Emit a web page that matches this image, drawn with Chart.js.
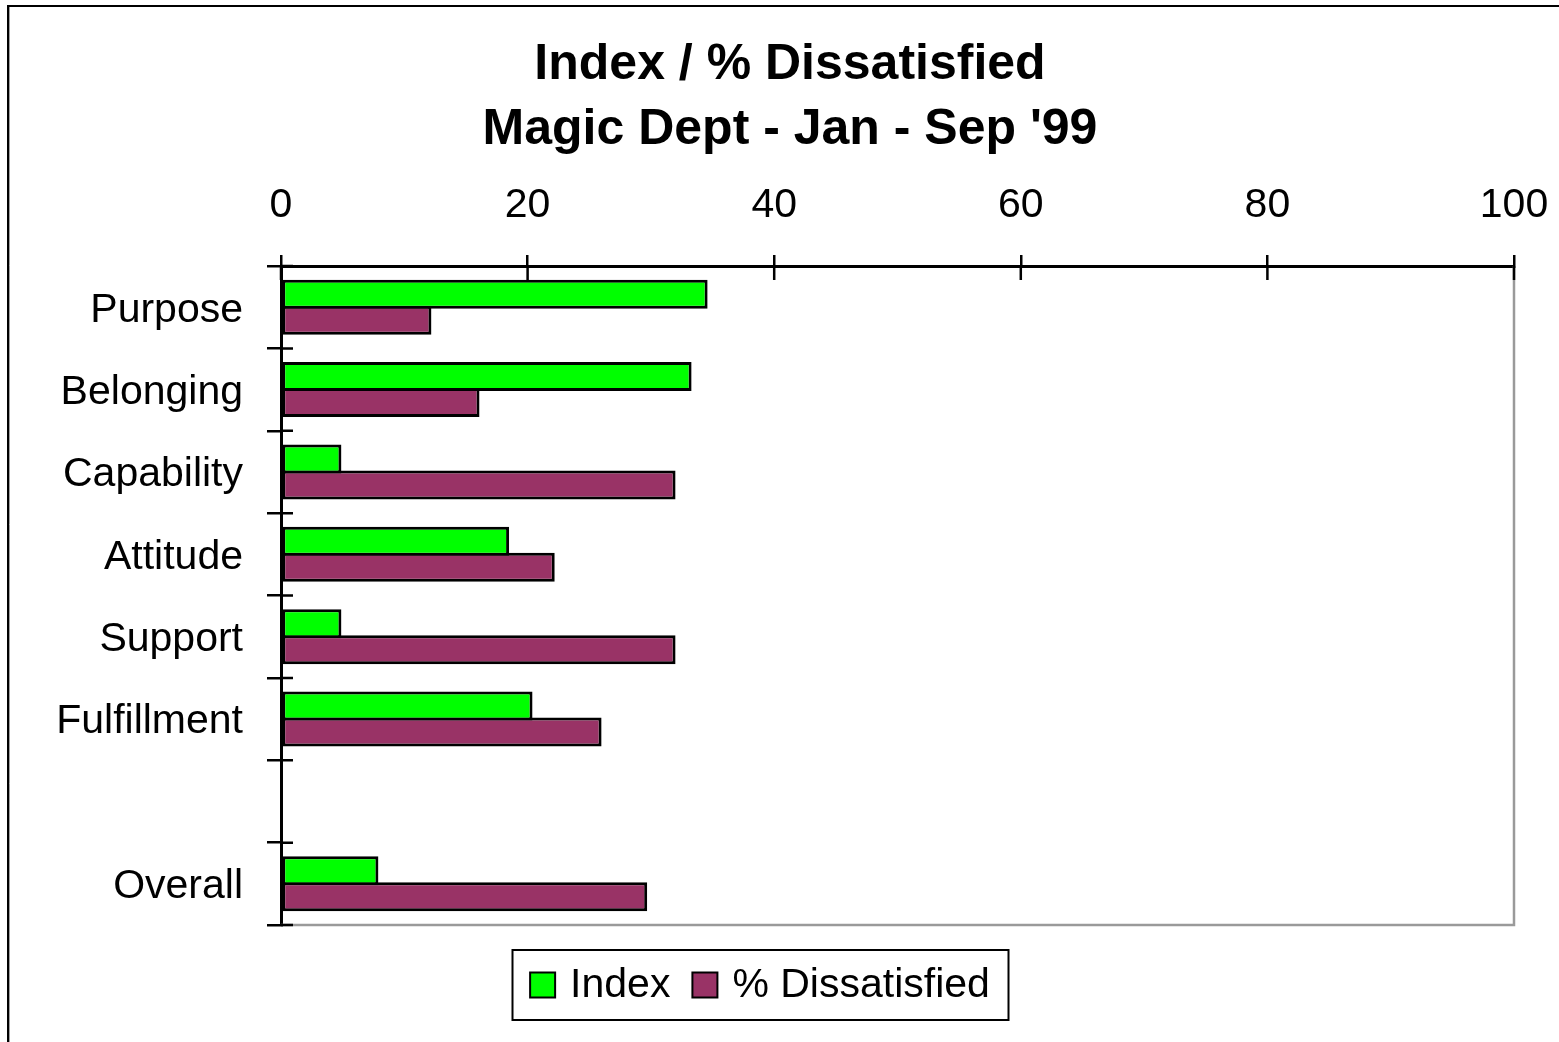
<!DOCTYPE html>
<html>
<head>
<meta charset="utf-8">
<title>Index / % Dissatisfied</title>
<script src="https://cdn.jsdelivr.net/npm/chart.js@4.4.1/dist/chart.umd.min.js"></script>
<style>
  html, body { margin:0; padding:0; background:#fff; }
  #wrap { width:1559px; height:1042px; position:relative; }
</style>
</head>
<body>
<div id="wrap"><canvas id="chart" width="1559" height="1042"></canvas></div>
<script>
// chart data
const categories = ['Purpose', 'Belonging', 'Capability', 'Attitude', 'Support', 'Fulfillment', '', 'Overall'];
const indexValues = [34.6, 33.3, 4.9, 18.5, 4.9, 20.4, null, 7.9];
const dissatisfiedValues = [12.2, 16.1, 32.0, 22.2, 32.0, 26.0, null, 29.7];
const xTickValues = [0, 20, 40, 60, 80, 100];
const titleLines = ['Index / % Dissatisfied', "Magic Dept - Jan - Sep '99"];

const FONT = "'Liberation Sans', Arial, Helvetica, sans-serif";
const GREEN = '#00ff00', PLUM = '#993366';

// title sits a bit right of the canvas centre in the original
const titleShift = { id: 'titleShift', afterLayout(chart){ if(chart.titleBlock) chart.titleBlock.left += 66; } };

// outer frame, inner tick stubs, grey right/bottom edges
const frame = {
  id: 'frame',
  beforeDatasetsDraw(chart){
    const {ctx, chartArea:a} = chart;
    ctx.save();
    ctx.strokeStyle = '#9a9a9a'; ctx.lineWidth = 2.5;
    ctx.beginPath();
    ctx.moveTo(a.right, a.top); ctx.lineTo(a.right, a.bottom); ctx.lineTo(a.left, a.bottom);
    ctx.stroke();
    ctx.restore();
  },
  afterDraw(chart){
    const {ctx, chartArea:a, scales:{x, y}} = chart;
    ctx.save();
    ctx.strokeStyle = '#000'; ctx.lineWidth = 2.5;
    ctx.beginPath();
    x.ticks.forEach(t=>{ const px = x.getPixelForValue(t.value); ctx.moveTo(px, a.top); ctx.lineTo(px, a.top+14); });
    const n = categories.length;
    for(let i=0;i<=n;i++){
      let py;
      if(i===0) py = a.top; else if(i===n) py = a.bottom;
      else py = (y.getPixelForValue(i-1) + y.getPixelForValue(i))/2;
      ctx.moveTo(a.left, py); ctx.lineTo(a.left+12, py);
    }
    ctx.stroke();
    // outer chart border (runs off the right/bottom of the picture)
    ctx.strokeStyle = '#000'; ctx.lineWidth = 2;
    ctx.strokeRect(8, 6, 1700, 1200);
    ctx.strokeStyle = '#a0a0a0'; ctx.lineWidth = 1;
    ctx.beginPath(); ctx.moveTo(9.5, 7); ctx.lineTo(9.5, 1042); ctx.stroke();
    ctx.restore();
  }
};

// boxed legend below the plot
const boxLegend = {
  id: 'boxLegend',
  afterDraw(chart){
    const ctx = chart.ctx;
    const sets = chart.data.datasets;
    const cx = 760, cy = 985, box = 25, gapText = 15, gapItem = 22, pad = 18;
    ctx.save();
    ctx.font = '41px ' + FONT;
    const widths = sets.map(d=>ctx.measureText(d.label).width);
    let total = 0;
    widths.forEach((w,i)=>{ total += box + gapText + w + (i<widths.length-1 ? gapItem : 0); });
    let x = cx - total/2;
    ctx.lineWidth = 2; ctx.strokeStyle = '#000';
    ctx.strokeRect(Math.round(x - pad)+0.5, cy - 35, Math.round(total + pad*2), 70);
    ctx.textBaseline = 'middle'; ctx.textAlign = 'left'; ctx.fillStyle = '#000';
    sets.forEach((d,i)=>{
      ctx.fillStyle = d.backgroundColor;
      ctx.fillRect(x, cy - box/2, box, box);
      ctx.strokeStyle = '#000'; ctx.lineWidth = 2;
      ctx.strokeRect(x, cy - box/2, box, box);
      ctx.fillStyle = '#000';
      ctx.fillText(d.label, x + box + gapText, cy + 1);
      x += box + gapText + widths[i] + gapItem;
    });
    ctx.restore();
  }
};

const ctx = document.getElementById('chart').getContext('2d');
new Chart(ctx, {
  type: 'bar',
  data: {
    labels: categories,
    datasets: [
      { label: 'Index', data: indexValues, backgroundColor: GREEN, borderColor: '#000', borderWidth: 3, borderSkipped: false },
      { label: '% Dissatisfied', data: dissatisfiedValues, backgroundColor: PLUM, borderColor: '#000', borderWidth: 3, borderSkipped: false }
    ]
  },
  options: {
    indexAxis: 'y',
    responsive: false,
    animation: false,
    categoryPercentage: 0.632,
    barPercentage: 1.115,
    layout: { padding: { left: 0, right: 45, top: 0, bottom: 117 } },
    plugins: {
      legend: { display: false },
      tooltip: { enabled: false },
      title: {
        display: true,
        text: titleLines,
        color: '#000',
        font: { family: FONT, size: 50, weight: 'bold', lineHeight: 1.3 },
        padding: { top: 33, bottom: 0 }
      }
    },
    scales: {
      x: {
        position: 'top',
        min: 0, max: 100,
        afterBuildTicks: s => { s.ticks = xTickValues.map(v=>({value:v})); },
        afterFit: s => { s.height = 103; s.paddingRight = 20; s.paddingLeft = 0; },
        grid: { display: true, drawOnChartArea: false, drawTicks: true, tickLength: 11, color: '#000', lineWidth: 2.5 },
        border: { display: true, color: '#000', width: 3 },
        ticks: { color: '#000', padding: 25, maxRotation: 0, font: { family: FONT, size: 41 } }
      },
      y: {
        afterFit: s => { s.width = 281; },
        grid: { display: true, drawOnChartArea: false, drawTicks: true, tickLength: 14, color: '#000', lineWidth: 2.5, offset: true },
        border: { display: true, color: '#000', width: 3 },
        ticks: { color: '#000', padding: 24, labelOffset: 3, autoSkip: false, font: { family: FONT, size: 41 } }
      }
    }
  },
  plugins: [titleShift, frame, boxLegend]
});
</script>
</body>
</html>
